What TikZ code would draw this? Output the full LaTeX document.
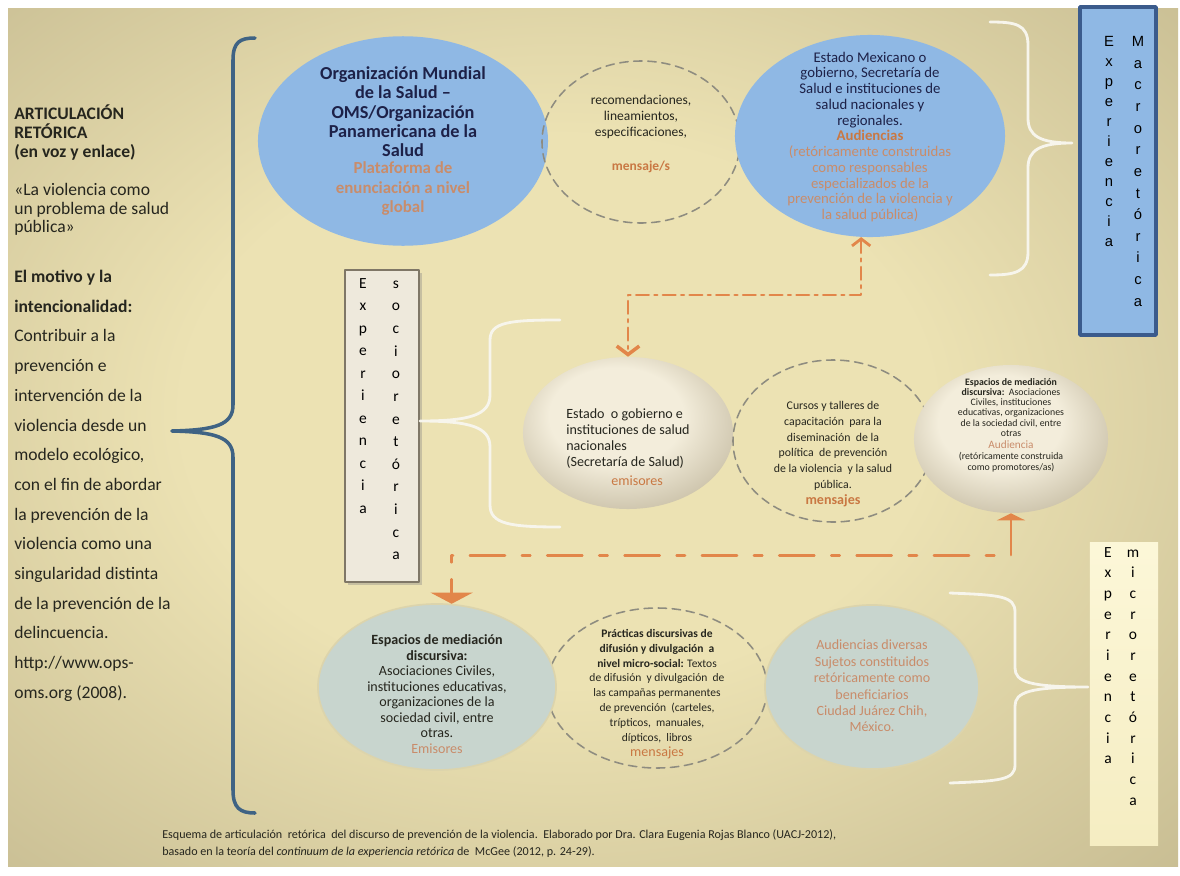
\documentclass[tikz,border=0pt]{standalone}
\usepackage{fontspec}
\setmainfont{Carlito}
\newfontfamily\arialfont{Liberation Sans}
\usetikzlibrary{shapes.geometric,arrows.meta,shadows}

\definecolor{bgin}{HTML}{ECE2B3}
\definecolor{bgout}{HTML}{978B67}
\definecolor{ink}{HTML}{26261E}
\definecolor{navy}{HTML}{1D2148}
\definecolor{orng}{HTML}{C97843}
\definecolor{orngl}{HTML}{C98C6A}
\definecolor{skyb}{HTML}{8FB8E4}
\definecolor{skybd}{HTML}{3B5B8C}
\definecolor{pearlin}{HTML}{F3EDDB}
\definecolor{pearlout}{HTML}{8E805E}
\definecolor{mist}{HTML}{C8D5CE}
\definecolor{mistline}{HTML}{DCD4AC}
\definecolor{dashg}{HTML}{8E8C80}
\definecolor{socfill}{HTML}{EEE9DC}
\definecolor{socline}{HTML}{7F7767}
\definecolor{mictop}{HTML}{FCF7D8}
\definecolor{micbot}{HTML}{F5EDC2}
\definecolor{bracew}{HTML}{F7F5EC}
\definecolor{bracebl}{HTML}{3F6384}
\definecolor{conn}{HTML}{E2864A}

\pgfdeclareradialshading{bgshade}{\pgfpoint{-2bp}{2bp}}{color(0bp)=(bgin); color(16bp)=(bgin); color(66bp)=(bgout)}
\pgfdeclareradialshading{pearl}{\pgfpoint{-4bp}{8bp}}{color(0bp)=(pearlin); color(16bp)=(pearlin); color(52bp)=(pearlout)}

\begin{document}
\begin{tikzpicture}[x=0.025cm, y=-0.025cm, line cap=round, line join=round]
\tikzset{
  oval/.style={ellipse, inner sep=0pt},
  skyoval/.style={oval, fill=skyb},
  mistoval/.style={oval, fill=mist, draw=mistline, line width=1.2pt},
  dashoval/.style={oval, draw=dashg, line width=1.1pt, dash pattern=on 6pt off 4pt},
  pearloval/.style={oval, shade, shading=pearl},
  txt/.style={align=center, inner sep=0pt, text=ink},
  lefttxt/.style={align=left, inner sep=0pt, text=ink, anchor=north west},
  letters/.style={align=center, inner sep=0pt, anchor=north},
  whitebrace/.style={draw=bracew, line width=2pt},
  connA/.style={draw=conn, line width=1.8pt, dash pattern=on 9pt off 4pt on 2pt off 4pt},
  connB/.style={draw=conn, line width=1.8pt, dash pattern=on 25pt off 12pt on 6pt off 12pt},
}
\useasboundingbox (0,0) rectangle (1180,876);
\fill[white] (0,0) rectangle (1180,876);
\shade[shading=bgshade] (8,8) rectangle (1178,866);

% left column
\node[lefttxt, font=\fontsize{12.5}{13.5}\selectfont\bfseries] (head) at (14,104)
  {ARTICULACIÓN\\RETÓRICA\\(en voz y enlace)};
\node[lefttxt, font=\fontsize{12.5}{13.2}\selectfont] (quote) at (14,183)
  {«La violencia como\\un problema de salud\\pública»};
\node[lefttxt, font=\fontsize{12.5}{21.1}\selectfont] (motive) at (14,270)
  {\textbf{El motivo y la}\\\textbf{intencionalidad:}\\Contribuir a la\\prevención e\\intervención de la\\violencia desde un\\modelo ecológico,\\con el fin de abordar\\la prevención de la\\violencia como una\\singularidad distinta\\de la prevención de la\\delincuencia.\\http://www.ops-\\oms.org (2008).};
\draw[draw=bracebl, line width=2.5pt] (255,38) .. controls (240,38) and (233,42) .. (233,60) -- (233,405)
  .. controls (233,425) and (215,430) .. (172,431) .. controls (215,432) and (233,437) .. (233,457)
  -- (233,790) .. controls (233,808) and (240,813) .. (255,813);

% top row
\node[skyoval, minimum width=7.25cm, minimum height=4.85cm, txt, text=navy,
  font=\fontsize{13}{13.6}\selectfont\bfseries] (oms) at (403,141)
  {Organización Mundial\\de la Salud --\\OMS/Organización\\Panamericana de la\\Salud\\[-1pt]
   \textcolor{orngl}{\fontsize{12}{12.2}\selectfont Plataforma de}\\
   \textcolor{orngl}{\fontsize{12}{12.2}\selectfont enunciación a nivel}\\
   \textcolor{orngl}{\fontsize{12}{12.2}\selectfont global}};
\node[dashoval, minimum width=4.95cm, minimum height=4.05cm] (recom) at (641,142) {};
\node[txt, font=\fontsize{9.6}{11.4}\selectfont] (recomtxt) at (641,134)
  {recomendaciones,\\lineamientos,\\especificaciones,\\[13pt]\textcolor{orng}{\bfseries mensaje/s}};
\node[skyoval, minimum width=6.75cm, minimum height=5.05cm] (audnac) at (870,136) {};
\node[txt, text=navy, font=\fontsize{10.5}{11.2}\selectfont] (audnactxt) at (870,137)
  {Estado Mexicano o\\gobierno, Secretaría de\\Salud e instituciones de\\salud nacionales y\\regionales.\\
   \textcolor{orng}{\bfseries Audiencias}\\\textcolor{orngl}{(retóricamente construidas}\\\textcolor{orngl}{como responsables}\\
   \textcolor{orngl}{especializados de la}\\\textcolor{orngl}{prevención de la violencia y}\\\textcolor{orngl}{la salud pública)}};
\draw[whitebrace] (990,22) .. controls (1015,22) and (1028,24) .. (1028,45) -- (1028,118)
  .. controls (1028,136) and (1040,143) .. (1072,143) .. controls (1040,143) and (1028,150) .. (1028,168)
  -- (1028,252) .. controls (1028,272) and (1015,275) .. (990,275);
\node[draw=skybd, line width=2.5pt, fill=skyb, minimum width=1.9cm, minimum height=8.2cm] (macro) at (1118,171) {};
\node[letters, font=\arialfont\fontsize{10.5}{14.2}\selectfont] (macroA) at (1109,36)
  {\vphantom{Ey}E\\x\\p\\e\\r\\i\\e\\n\\c\\i\\a};
\node[letters, font=\arialfont\fontsize{10.5}{15.4}\selectfont] (macroB) at (1138,36)
  {\vphantom{Ey}M\\a\\c\\r\\o\\r\\e\\t\\ó\\r\\i\\c\\a};

% middle row
\node[draw=socline, line width=1.5pt, fill=socfill, minimum width=1.85cm, minimum height=7.8cm,
  drop shadow={shadow xshift=2pt, shadow yshift=-2pt, opacity=.35}] (socio) at (382,426) {};
\node[letters, font=\fontsize{11}{16}\selectfont] (socioA) at (363,278)
  {\vphantom{Ey}E\\x\\p\\e\\r\\i\\e\\n\\c\\i\\a};
\node[letters, font=\fontsize{11}{16.1}\selectfont] (socioB) at (396,278)
  {\vphantom{Ey}s\\o\\c\\i\\o\\r\\e\\t\\ó\\r\\i\\c\\a};
\draw[whitebrace] (560,320) .. controls (510,320) and (490,322) .. (490,340) -- (490,395)
  .. controls (490,415) and (470,421) .. (420,421) .. controls (470,421) and (490,427) .. (490,447)
  -- (490,505) .. controls (490,524) and (510,527) .. (560,527);
\node[pearloval, minimum width=5.25cm, minimum height=3.8cm] (estado) at (628,433) {};
\node[txt, align=left, font=\fontsize{10}{11.4}\selectfont] (estadotxt) at (628,447)
  {Estado\ \ o gobierno e\\instituciones de salud\\nacionales\\(Secretaría de Salud)\\[2pt]\hspace*{32pt}\textcolor{orng}{emisores}};
\node[dashoval, minimum width=5cm, minimum height=4.05cm] (cursos) at (833,441) {};
\node[txt, font=\fontsize{8.4}{11.2}\selectfont] (cursostxt) at (833,454)
  {Cursos y talleres de\\capacitación\ \ para la\\diseminación\ \ de la\\política\ \ de prevención\\de la violencia\ \ y la salud\\pública.\\\textcolor{orng}{\fontsize{10}{11.2}\selectfont\bfseries mensajes}};
\node[pearloval, minimum width=4.85cm, minimum height=3.7cm] (promo) at (1011,439) {};
\node[txt, font=\fontsize{7}{7.3}\selectfont] (promotxt) at (1011,425)
  {\textbf{Espacios de mediación}\\\textbf{discursiva:}\ \ Asociaciones\\Civiles, instituciones\\educativas, organizaciones\\de la sociedad civil, entre\\otras\\[1pt]
   \textcolor{orngl}{\fontsize{8}{8}\selectfont Audiencia}\\[1pt](retóricamente construida\\como promotores/as)};

% bottom row
\node[dashoval, minimum width=5.5cm, minimum height=4cm] (practicas) at (657,688) {};
\node[mistoval, minimum width=5.95cm, minimum height=4.15cm] (espacios) at (437,687) {};
\node[txt, font=\fontsize{10}{11}\selectfont] (espaciostxt) at (437,694)
  {\textbf{Espacios de mediación}\\\textbf{discursiva:}\\Asociaciones Civiles,\\instituciones educativas,\\organizaciones de la\\sociedad civil, entre\\otras.\\\textcolor{orngl}{Emisores}};
\node[txt, font=\fontsize{8.2}{10.6}\selectfont] (practicastxt) at (657,694)
  {\textbf{Prácticas discursivas de}\\\textbf{difusión y divulgación\ \ a}\\\textbf{nivel micro-social:} Textos\\de difusión\ \ y divulgación\ \ de\\las campañas permanentes\\de prevención\ \ (carteles,\\trípticos,\ \ manuales,\\dípticos,\ \ libros\\\textcolor{orng}{\fontsize{10}{10.6}\selectfont mensajes}};
\node[mistoval, minimum width=5.35cm, minimum height=4.1cm] (benef) at (872,687) {};
\node[txt, text=orngl, font=\fontsize{10}{11.7}\selectfont] (beneftxt) at (872,686)
  {Audiencias diversas\\Sujetos constituidos\\retóricamente como\\beneficiarios\\Ciudad Juárez Chih,\\México.};
\draw[whitebrace] (950,593) .. controls (1000,595) and (1015,596) .. (1015,612) -- (1015,668)
  .. controls (1015,682) and (1030,687) .. (1088,687) .. controls (1030,687) and (1015,692) .. (1015,706)
  -- (1015,765) .. controls (1015,780) and (1000,781) .. (950,783);
\node[top color=mictop, bottom color=micbot, minimum width=1.7cm, minimum height=7.55cm] (micro) at (1124,694) {};
\node[letters, font=\fontsize{11}{14.7}\selectfont] (microA) at (1108,547)
  {\vphantom{Ey}E\\x\\p\\e\\r\\i\\e\\n\\c\\i\\a};
\node[letters, font=\fontsize{11}{14.7}\selectfont] (microB) at (1133,547)
  {\vphantom{Ey}m\\i\\c\\r\\o\\r\\e\\t\\ó\\r\\i\\c\\a};

% connectors
\draw[connA, {Straight Barb[length=5pt, width=13pt, line width=2pt]}-{Straight Barb[length=6pt, width=16pt, line width=2.5pt]}]
  (audnac.265) -- ++(0,58) -| (estado.north);
\draw[connB, {Triangle[length=5pt, width=20pt]}-{Triangle[length=8pt, width=30pt]}]
  (promo.south) -- ++(0,42) -| (espacios.80);

% caption
\node[lefttxt, text=ink, font=\fontsize{8.6}{12}\selectfont] (caption) at (162,829)
  {Esquema de articulación\ \ retórica\ \ del discurso de prevención de la violencia.\ \ Elaborado por Dra. Clara Eugenia Rojas Blanco (UACJ-2012),\\basado en la teoría del \textit{continuum de la experiencia retórica} de\ \ McGee (2012, p. 24-29).};
\end{tikzpicture}
\end{document}
